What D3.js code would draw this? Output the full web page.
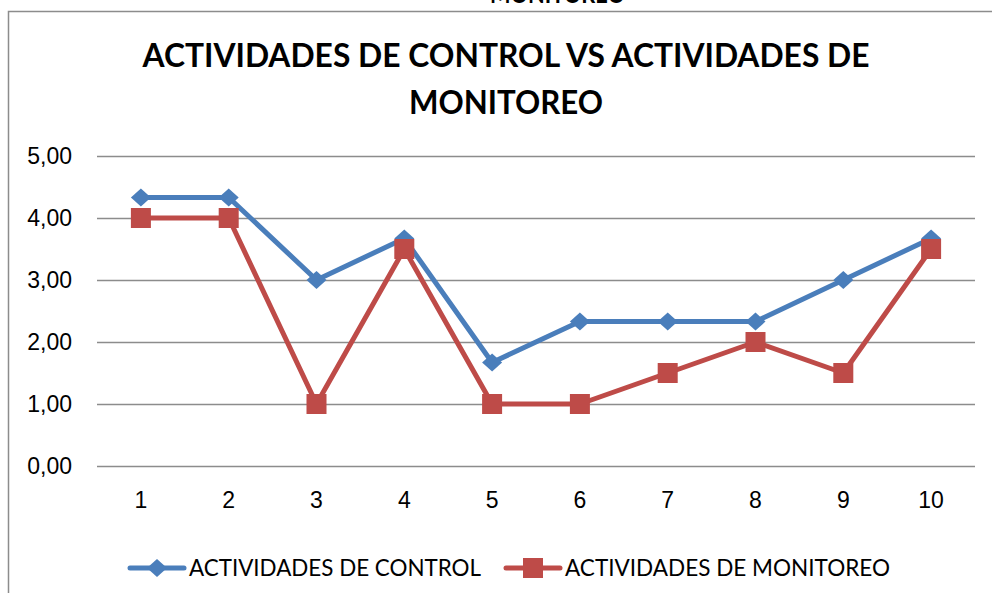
<!DOCTYPE html>
<html>
<head>
<meta charset="utf-8">
<script src="https://cdn.jsdelivr.net/npm/d3@7"></script>
<style>
  body { margin: 0; background: #fff; }
  svg { display: block; font-family: Lato, "Open Sans", sans-serif; }
  .axis text { font-size: 23px; fill: #000; }
  .grid line { stroke: #8c8c8c; stroke-width: 1.5px; }
</style>
</head>
<body>
<div id="chart-area"></div>
<script>
const categories = ["1", "2", "3", "4", "5", "6", "7", "8", "9", "10"];
const control = [4.33, 4.33, 3.00, 3.67, 1.67, 2.33, 2.33, 2.33, 3.00, 3.67];
const monitoreo = [4.00, 4.00, 1.00, 3.50, 1.00, 1.00, 1.50, 2.00, 1.50, 3.50];
const yTicks = [0, 1, 2, 3, 4, 5];
const seriesNames = ["ACTIVIDADES DE CONTROL", "ACTIVIDADES DE MONITOREO"];
const titleLines = ["ACTIVIDADES DE CONTROL VS ACTIVIDADES DE", "MONITOREO"];

const W = 992, H = 593;
const blue = "#4a7ebb", red = "#be4b48";

let svg = d3.select("#chart-area")
  .append("svg")
  .attr("width", W)
  .attr("height", H);

svg.append("rect").attr("width", W).attr("height", H).attr("fill", "#fff");

// leftover title from the chart above (only its bottom edge shows)
svg.append("text")
  .attr("x", 490)
  .attr("y", 3)
  .attr("font-weight", "bold")
  .attr("font-size", 26)
  .attr("textLength", 135)
  .attr("lengthAdjust", "spacingAndGlyphs")
  .text("MONITOREO");

// chart frame
svg.append("rect")
  .attr("x", 8.5).attr("y", 11.5)
  .attr("width", 1010).attr("height", 620)
  .attr("fill", "none")
  .attr("stroke", "#8c8c8c")
  .attr("stroke-width", 1.5);

// title
svg.selectAll(".title")
  .data(titleLines)
  .enter()
  .append("text")
  .attr("class", "title")
  .attr("x", 506)
  .attr("y", (d, i) => 67 + i * 47)
  .attr("text-anchor", "middle")
  .attr("font-weight", "bold")
  .attr("font-size", 33)
  .attr("textLength", (d, i) => i === 0 ? 727 : 194)
  .attr("lengthAdjust", "spacingAndGlyphs")
  .text(d => d);

let x = d3.scaleBand().domain(categories).range([97, 975]);
let y = d3.scaleLinear().domain([0, 5]).range([466, 156]);
let cx = c => x(c) + x.bandwidth() / 2;

// y axis + gridlines
let yAxis = d3.axisLeft(y)
  .tickValues(yTicks)
  .tickSize(-(975 - 97))
  .tickPadding(25)
  .tickFormat(d => d3.format(".2f")(d).replace(".", ","));

svg.append("g")
  .attr("class", "axis grid")
  .attr("transform", "translate(97,0)")
  .call(yAxis)
  .call(g => g.select(".domain").remove());

// x axis labels
let xAxis = d3.axisBottom(x).tickSize(0).tickPadding(26);
svg.append("g")
  .attr("class", "axis")
  .attr("transform", "translate(0,466)")
  .call(xAxis)
  .call(g => g.select(".domain").remove());

let line = d3.line()
  .x((d, i) => cx(categories[i]))
  .y(d => y(d));

function diamond(px, py) {
  return "M" + (px - 10) + "," + py + "L" + px + "," + (py - 9) +
         "L" + (px + 10) + "," + py + "L" + px + "," + (py + 9) + "Z";
}

// ---- series 1 ----
svg.append("path")
  .datum(control)
  .attr("d", line)
  .attr("fill", "none")
  .attr("stroke", blue)
  .attr("stroke-width", 5)
  .attr("stroke-linejoin", "round");

svg.selectAll(".dia")
  .data(control)
  .enter()
  .append("path")
  .attr("class", "dia")
  .attr("d", (d, i) => diamond(cx(categories[i]), y(d)))
  .attr("fill", blue);

// ---- series 2 ----
svg.append("path")
  .datum(monitoreo)
  .attr("d", line)
  .attr("fill", "none")
  .attr("stroke", red)
  .attr("stroke-width", 5)
  .attr("stroke-linejoin", "round");

svg.selectAll(".sq")
  .data(monitoreo)
  .enter()
  .append("rect")
  .attr("class", "sq")
  .attr("x", (d, i) => cx(categories[i]) - 10)
  .attr("y", d => y(d) - 10)
  .attr("width", 20)
  .attr("height", 20)
  .attr("fill", red);

// legend
let legend = [
  { name: seriesNames[0], color: blue, x0: 130, textW: 292 },
  { name: seriesNames[1], color: red, x0: 506, textW: 325 }
];
let ly = 568;
legend.forEach((l, i) => {
  let g = svg.append("g");
  g.append("line")
    .attr("x1", l.x0).attr("x2", l.x0 + 54)
    .attr("y1", ly).attr("y2", ly)
    .attr("stroke", l.color)
    .attr("stroke-width", 5)
    .attr("stroke-linecap", "round");
  if (i === 0) {
    g.append("path").attr("d", diamond(l.x0 + 27, ly)).attr("fill", l.color);
  } else {
    g.append("rect")
      .attr("x", l.x0 + 17).attr("y", ly - 10)
      .attr("width", 20).attr("height", 20)
      .attr("fill", l.color);
  }
  g.append("text")
    .attr("x", l.x0 + 59)
    .attr("y", ly + 8)
    .attr("font-size", 23)
    .attr("textLength", l.textW)
    .attr("lengthAdjust", "spacingAndGlyphs")
    .text(l.name);
});
</script>
</body>
</html>
